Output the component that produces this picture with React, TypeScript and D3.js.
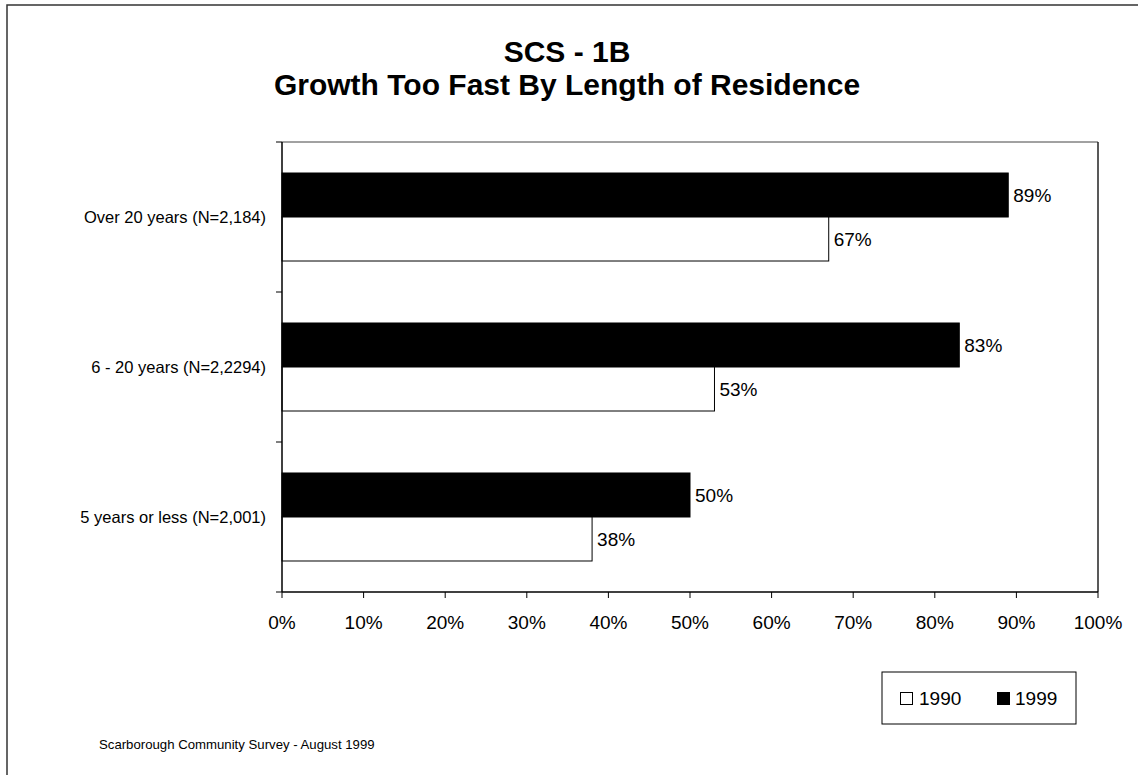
import React from "react";
import * as d3 from "d3";

const categories = ["Over 20 years (N=2,184)", "6 - 20 years (N=2,2294)", "5 years or less (N=2,001)"];
const series = ["1999", "1990"];
const values1999 = [89, 83, 50];
const values1990 = [67, 53, 38];
const xTicks = [0, 10, 20, 30, 40, 50, 60, 70, 80, 90, 100];
const titleLines = ["SCS - 1B", "Growth Too Fast By Length of Residence"];
const footer = "Scarborough Community Survey - August 1999";

export default function App() {
  const W = 1138, H = 775;
  const left = 282, right = 1098, top = 142, bottom = 592;
  const x = d3.scaleLinear().domain([0, 100]).range([left, right]);
  const y = d3.scaleBand().domain(categories).range([top, bottom]).paddingInner(0.4133).paddingOuter(0.2067);
  const inner = d3.scaleBand().domain(series).range([0, y.bandwidth()]);
  const font = "Liberation Sans, Arial, sans-serif";
  const fs = 19;
  const data = categories.map((c, i) => ({ c, v: { "1999": values1999[i], "1990": values1990[i] } as Record<string, number> }));
  const yTicks = [top, ...categories.map((c, i) => top + (i + 1) * (bottom - top) / categories.length)];
  return (
    <svg width={W} height={H} style={{ position: "absolute", left: 0, top: 0, background: "#fff" }} fontFamily={font}>
      <rect x={0} y={0} width={W} height={H} fill="#fff" />
      <rect x={7} y={5} width={W + 20} height={H + 20} fill="none" stroke="#333" strokeWidth={1.5} />
      {titleLines.map((t, i) => (
        <text key={i} x={567} y={62 + i * 33} textAnchor="middle" fontSize={30} fontWeight="bold">{t}</text>
      ))}
      <line x1={left} x2={right} y1={top} y2={top} stroke="#444" strokeWidth={1} />
      <line x1={right} x2={right} y1={top} y2={bottom} stroke="#222" strokeWidth={1.5} />
      {data.map(d => series.map(s => (
        <g key={d.c + s}>
          <rect x={x(0)} y={(y(d.c) as number) + (inner(s) as number)} width={x(d.v[s]) - x(0)} height={inner.bandwidth()}
            fill={s === "1999" ? "#000" : "#fff"} stroke="#000" strokeWidth={1} />
          <text x={x(d.v[s]) + 5} y={(y(d.c) as number) + (inner(s) as number) + inner.bandwidth() / 2 + 7} fontSize={fs}>{d.v[s]}%</text>
        </g>
      )))}
      {categories.map(c => (
        <text key={c} x={266} y={(y(c) as number) + y.bandwidth() / 2 + 6} textAnchor="end" fontSize={16.5}>{c}</text>
      ))}
      <line x1={left} x2={left} y1={top} y2={bottom} stroke="#000" strokeWidth={1.5} />
      {yTicks.map((t, i) => <line key={i} x1={left - 6} x2={left} y1={t} y2={t} stroke="#000" strokeWidth={1} />)}
      <line x1={left} x2={right} y1={bottom} y2={bottom} stroke="#000" strokeWidth={1.5} />
      {xTicks.map(t => (
        <g key={t}>
          <line x1={x(t)} x2={x(t)} y1={bottom} y2={bottom + 6} stroke="#000" strokeWidth={1} />
          <text x={x(t)} y={629} textAnchor="middle" fontSize={fs}>{t}%</text>
        </g>
      ))}
      <rect x={882} y={672} width={194} height={52} fill="#fff" stroke="#000" strokeWidth={1} />
      <rect x={900.5} y={692.5} width={12} height={12} fill="#fff" stroke="#000" strokeWidth={1} />
      <text x={919} y={705} fontSize={fs}>1990</text>
      <rect x={997} y={692} width={13} height={13} fill="#000" />
      <text x={1015} y={705} fontSize={fs}>1999</text>
      <text x={99} y={749} fontSize={13.2}>{footer}</text>
    </svg>
  );
}
